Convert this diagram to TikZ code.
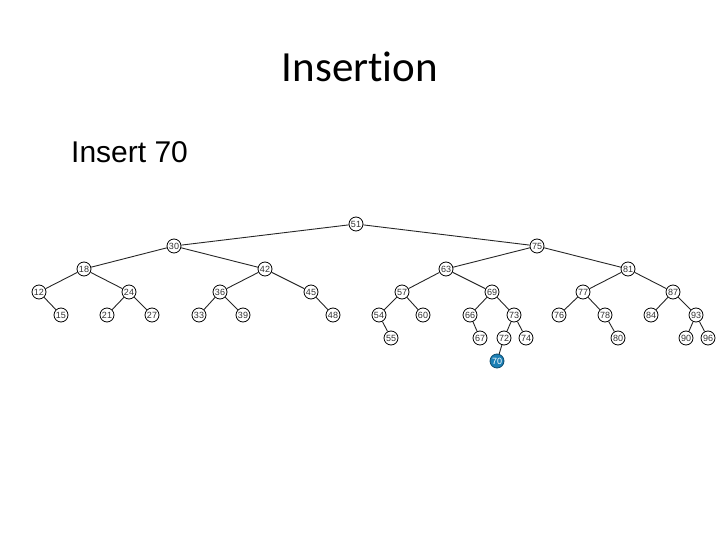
\documentclass[tikz,border=0pt]{standalone}
\usepackage{fontspec}
\setmainfont{Liberation Sans}
\newfontfamily\titlefont[Ligatures=NoCommon]{Carlito}
\definecolor{hl}{HTML}{1B7FB5}
\begin{document}
\begin{tikzpicture}[x=1pt,y=-1pt,
  tn/.style={circle,draw=black,line width=0.8pt,fill=white,minimum size=14pt,inner sep=0pt,font=\fontsize{9}{10}\selectfont,text=black!80},
  hn/.style={tn,fill=hl,draw=hl!60!black,text=white},
  edge/.style={draw=black!85,line width=0.9pt}]
\useasboundingbox (0,0) rectangle (720,540);
\node[font=\titlefont\fontsize{43}{48}\selectfont,anchor=base,inner sep=0pt] (title) at (360,82) {Insertion};
\node[font=\fontsize{30}{34}\selectfont,anchor=base west,inner sep=0pt] (ins) at (71,163) {Insert 70};
% nodes
\node[tn] (n51) at (356,224) {51};
\node[tn] (n30) at (174,246) {30};
\node[tn] (n75) at (537,246) {75};
\node[tn] (n18) at (84,269) {18};
\node[tn] (n42) at (265,269) {42};
\node[tn] (n63) at (446,269) {63};
\node[tn] (n81) at (628,269) {81};
\node[tn] (n12) at (39,292) {12};
\node[tn] (n24) at (129,292) {24};
\node[tn] (n36) at (220,292) {36};
\node[tn] (n45) at (311,292) {45};
\node[tn] (n57) at (402,292) {57};
\node[tn] (n69) at (492,292) {69};
\node[tn] (n77) at (583,292) {77};
\node[tn] (n87) at (673,292) {87};
\node[tn] (n15) at (61,315) {15};
\node[tn] (n21) at (107,315) {21};
\node[tn] (n27) at (152,315) {27};
\node[tn] (n33) at (199,315) {33};
\node[tn] (n39) at (243,315) {39};
\node[tn] (n48) at (333,315) {48};
\node[tn] (n54) at (379,315) {54};
\node[tn] (n60) at (423,315) {60};
\node[tn] (n66) at (470,315) {66};
\node[tn] (n73) at (514,315) {73};
\node[tn] (n76) at (559,315) {76};
\node[tn] (n78) at (605,315) {78};
\node[tn] (n84) at (651,315) {84};
\node[tn] (n93) at (696,315) {93};
\node[tn] (n55) at (391,338) {55};
\node[tn] (n67) at (480,338) {67};
\node[tn] (n72) at (504,338) {72};
\node[tn] (n74) at (526,338) {74};
\node[tn] (n80) at (618,338) {80};
\node[tn] (n90) at (686,338) {90};
\node[tn] (n96) at (708,338) {96};
\node[hn] (n70) at (497,361) {70};
% edges
\foreach \a/\b in {51/30,51/75,30/18,30/42,75/63,75/81,18/12,18/24,42/36,42/45,63/57,63/69,81/77,81/87,
  12/15,24/21,24/27,36/33,36/39,45/48,57/54,57/60,69/66,69/73,77/76,77/78,87/84,87/93,
  54/55,66/67,73/72,73/74,78/80,93/90,93/96,72/70}
  \draw[edge] (n\a) -- (n\b);
\end{tikzpicture}
\end{document}
